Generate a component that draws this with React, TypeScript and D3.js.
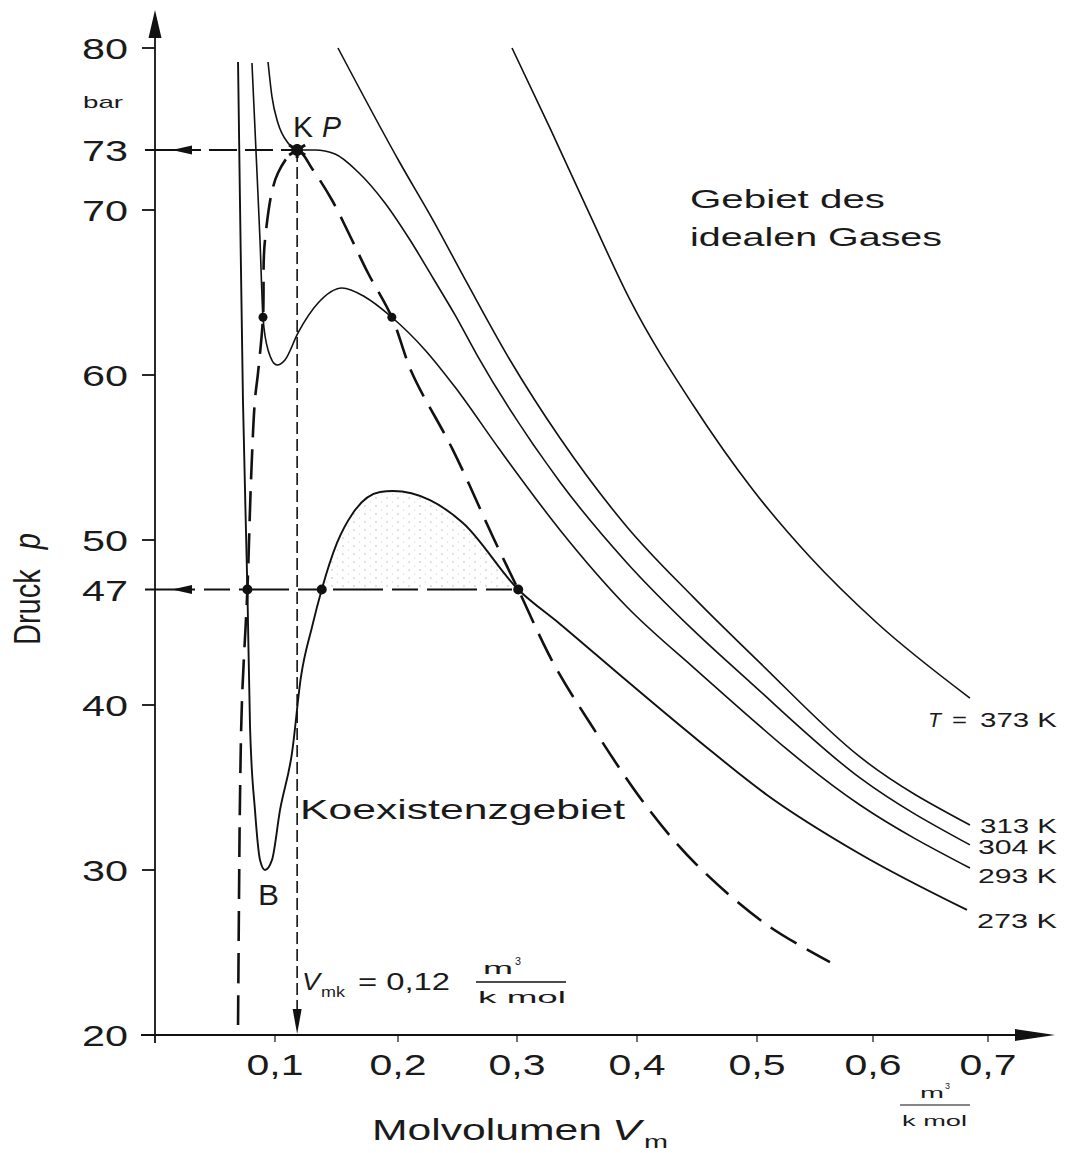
import React from "react";
import * as d3 from "d3";

const W = 1065;
const H = 1153;

// axis ticks: Molvolumen in m3/kmol, Druck in bar
const xTickValues = [0.1, 0.2, 0.3, 0.4, 0.5, 0.6, 0.7];
const xTickLabels = ["0,1", "0,2", "0,3", "0,4", "0,5", "0,6", "0,7"];
const yTickValues = [80, 73, 70, 60, 50, 47, 40, 30, 20];
const yTickMarks = [80, 70, 60, 50, 40, 30, 20];

// isotherms, [V, p]
const iso373 = [
  [0.2958, 80], [0.3275, 74.5], [0.3608, 69.7], [0.3942, 64.55],
  [0.4467, 58.18], [0.4967, 53.03], [0.5457, 48.97], [0.6035, 44.97], [0.6843, 40.42],
];
const iso313 = [
  [0.1512, 80], [0.2017, 72.35], [0.2294, 69.39], [0.258, 65.58], [0.2941, 60.91],
  [0.3358, 56.18], [0.3917, 50.79], [0.4467, 46.55], [0.5026, 42.55], [0.5888, 36.85],
  [0.6843, 32.73],
];
const iso304 = [
  [0.0942, 79.04], [0.0975, 76.64], [0.1024, 74.85], [0.1106, 73.48], [0.118, 73.0],
  [0.1325, 73.0], [0.1488, 72.8], [0.1675, 71.9], [0.1894, 70.35], [0.2101, 68.18],
  [0.2294, 65.88], [0.2479, 63.64], [0.2664, 61.21], [0.3358, 53.52], [0.3917, 48.61],
  [0.4467, 44.55], [0.4942, 41.39], [0.5888, 35.58], [0.6843, 31.52],
];
const iso293 = [
  [0.0808, 78.97], [0.085, 71.85], [0.0875, 68.18], [0.09, 63.5], [0.0942, 61.52],
  [0.1016, 60.61], [0.1081, 60.91], [0.1187, 62.55], [0.135, 64.36], [0.1545, 65.27],
  [0.1732, 64.73], [0.195, 63.5], [0.2227, 61.52], [0.2479, 59.27], [0.2857, 55.45],
  [0.3358, 50.61], [0.3917, 45.94], [0.4467, 42.3], [0.5888, 33.94], [0.6843, 30.12],
];
const iso273 = [
  [0.0692, 79.04], [0.0708, 70.5], [0.0733, 58.48], [0.077, 47], [0.0792, 38.67],
  [0.0833, 33.64], [0.0875, 30.61], [0.0917, 30.0], [0.0975, 30.61], [0.1041, 33.64],
  [0.1138, 37.09], [0.1211, 41.7], [0.1301, 44.73], [0.138, 47], [0.1504, 49.82],
  [0.1634, 51.64], [0.1854, 52.91], [0.1959, 52.97], [0.2269, 52.42], [0.2546, 51.03],
  [0.301, 47], [0.3358, 44.91], [0.3917, 41.45], [0.4525, 37.76], [0.5086, 34.55],
  [0.5888, 30.97], [0.6817, 27.58],
];

// border of the coexistence region (dashed), from low left over KP down to the right
const binodal = [
  [0.0692, 20.6], [0.07, 28.2], [0.0708, 34.2], [0.0725, 40.3], [0.077, 47],
  [0.08, 53.6], [0.0833, 58.5], [0.0858, 60.1], [0.09, 63.5], [0.0917, 68.2],
  [0.1024, 71.85], [0.118, 73], [0.1309, 72], [0.1463, 70.5], [0.1626, 68.18],
  [0.1756, 66.18], [0.195, 63.5], [0.2118, 60.12], [0.2462, 55.45], [0.2798, 50.18],
  [0.301, 47], [0.3302, 42.55], [0.3608, 38.91], [0.4083, 33.82], [0.45, 30.3],
  [0.5086, 26.67], [0.5629, 24.42],
];

const vCrit = 0.118;
const pCrit = 73;
const p273 = 47;
const dots273 = [0.077, 0.138, 0.301];
const p293 = 63.5;
const dots293 = [0.09, 0.195];

const FONT = "'Liberation Sans', Arial, sans-serif";

function T({ x, y, size, len, anchor = "start", italic = false, children }: any) {
  return (
    <text
      x={x}
      y={y}
      fontSize={size}
      textLength={len}
      lengthAdjust="spacingAndGlyphs"
      textAnchor={anchor}
      fontStyle={italic ? "italic" : "normal"}
      fill="#1a1a1a"
    >
      {children}
    </text>
  );
}

export default function App() {
  const x = d3.scaleLinear()
    .domain([0, 0.1, 0.2, 0.3, 0.4, 0.5, 0.6, 0.7])
    .range([155, 275, 398, 517, 637, 757, 873, 988]);
  const y = d3.scaleLinear()
    .domain([20, 70, 73, 80])
    .range([1035, 210, 150, 48]);

  const iso = d3.line<number[]>().x(d => x(d[0])).y(d => y(d[1])).curve(d3.curveMonotoneX);
  const dome = d3.line<number[]>().x(d => x(d[0])).y(d => y(d[1])).curve(d3.curveCatmullRom.alpha(0.5));

  // stippled lobe of the 273 K loop above the 47 bar line
  const lobe = iso273.filter(d => d[0] >= dots273[1] && d[0] <= dots273[2]);
  const lobeArea = d3.area<number[]>().x(d => x(d[0])).y0(y(p273)).y1(d => y(d[1])).curve(d3.curveMonotoneX);

  const x0 = x(0);
  const yBase = y(20);
  const xc = x(vCrit);
  const yc = y(pCrit);
  const y47 = y(p273);

  return (
    <svg
      width={W}
      height={H}
      style={{ position: "absolute", left: 0, top: 0, background: "#fff" }}
      fontFamily={FONT}
    >
      <defs>
        <pattern id="stip" width="11" height="8" patternUnits="userSpaceOnUse">
          <circle cx="2" cy="2" r="0.7" fill="#888" />
          <circle cx="7.5" cy="6" r="0.6" fill="#aaa" />
        </pattern>
      </defs>
      <rect width={W} height={H} fill="#fff" />

      <path d={lobeArea(lobe) || ""} fill="url(#stip)" opacity={0.7} />

      {/* axes */}
      <g stroke="#111" strokeWidth={1.8}>
        <line x1={x0} x2={x0} y1={yBase + 8} y2={16} />
        <line x1={x0 - 14} x2={1020} y1={yBase} y2={yBase} />
        {yTickMarks.map(v => (
          <line key={v} x1={x0 - 13} x2={x0} y1={y(v)} y2={y(v)} />
        ))}
        {xTickValues.map(v => (
          <line key={v} x1={x(v)} x2={x(v)} y1={yBase} y2={yBase + 7} strokeWidth={1.2} />
        ))}
      </g>
      <path d={`M${x0},10 L${x0 - 6.5},38 L${x0 + 6.5},38 Z`} fill="#111" />
      <path d={`M1055,${yBase} L1015,${yBase - 6} L1015,${yBase + 6} Z`} fill="#111" />

      {/* tick labels */}
      {yTickValues.map(v => (
        <T key={v} x={128} y={y(v) + 11} size={29} len={46} anchor="end">{String(v)}</T>
      ))}
      <T x={83} y={108} size={17} len={40}>bar</T>
      {xTickValues.map((v, i) => (
        <T key={v} x={x(v)} y={1075} size={30} len={57} anchor="middle">{xTickLabels[i]}</T>
      ))}

      {/* isotherms */}
      <g fill="none" stroke="#111" strokeWidth={1.6}>
        <path d={iso(iso373) || ""} />
        <path d={iso(iso313) || ""} />
        <path d={iso(iso304) || ""} />
        <path d={iso(iso293) || ""} />
        <path d={iso(iso273) || ""} strokeWidth={1.9} />
      </g>

      {/* coexistence border */}
      <path d={dome(binodal) || ""} fill="none" stroke="#111" strokeWidth={2.6} strokeDasharray="30,12" />

      {/* guide lines at 73 bar, 47 bar and V_mk */}
      <g fill="none" stroke="#111" strokeWidth={2}>
        <line x1={x0 - 10} x2={xc} y1={yc} y2={yc} strokeDasharray="56,8,28,8,28,8" />
        <line x1={x0 - 10} x2={x(dots273[2])} y1={y47} y2={y47} strokeDasharray="50,9,26,9" />
        <line x1={xc} x2={xc} y1={yc} y2={yBase - 18} strokeDasharray="12,5" strokeWidth={1.6} />
      </g>
      <path d={`M${x0 + 17},${yc} L${x0 + 37},${yc - 4.5} L${x0 + 37},${yc + 4.5} Z`} fill="#111" />
      <path d={`M${x0 + 17},${y47} L${x0 + 37},${y47 - 4.5} L${x0 + 37},${y47 + 4.5} Z`} fill="#111" />
      <path d={`M${xc},${yBase - 1} L${xc - 4.5},${yBase - 26} L${xc + 4.5},${yBase - 26} Z`} fill="#111" />

      {/* points */}
      {dots273.map(v => <circle key={v} cx={x(v)} cy={y47} r={5} fill="#111" />)}
      {dots293.map(v => <circle key={v} cx={x(v)} cy={y(p293)} r={4.5} fill="#111" />)}
      <g stroke="#111" strokeWidth={3}>
        <circle cx={xc} cy={yc} r={4.5} fill="#111" />
        <line x1={xc - 8} x2={xc + 8} y1={yc - 5} y2={yc + 5} />
        <line x1={xc - 8} x2={xc + 8} y1={yc + 5} y2={yc - 5} />
        <line x1={xc} x2={xc} y1={yc - 6} y2={yc + 8} />
      </g>

      {/* annotations */}
      <T x={293} y={137} size={30} len={20}>K</T>
      <T x={322} y={137} size={30} len={19} italic>P</T>
      <T x={258} y={905} size={30} len={21}>B</T>
      <T x={690} y={208} size={25} len={195}>Gebiet des</T>
      <T x={690} y={246} size={25} len={252}>idealen Gases</T>
      <T x={300} y={819} size={28} len={325}>Koexistenzgebiet</T>

      <T x={302} y={990} size={24} len={18} italic>V</T>
      <T x={321} y={997} size={15} len={24}>mk</T>
      <T x={358} y={990} size={24} len={92}>= 0,12</T>
      <T x={483} y={974} size={17} len={30}>m</T>
      <T x={515} y={965} size={11} len={6}>3</T>
      <line x1={476} x2={566} y1={982} y2={982} stroke="#111" strokeWidth={1.3} />
      <T x={478} y={1003} size={17} len={88}>k mol</T>

      {/* curve labels */}
      <T x={928} y={727} size={21} len={13} italic>T</T>
      <T x={952} y={727} size={21} len={15}>=</T>
      <T x={980} y={727} size={21} len={77}>373 K</T>
      <T x={980} y={833} size={21} len={77}>313 K</T>
      <T x={978} y={854} size={21} len={79}>304 K</T>
      <T x={978} y={883} size={21} len={79}>293 K</T>
      <T x={977} y={928} size={21} len={80}>273 K</T>

      {/* axis titles */}
      <T x={372} y={1140} size={30} len={230}>Molvolumen</T>
      <T x={612} y={1140} size={30} len={29} italic>V</T>
      <T x={644} y={1148} size={19} len={24}>m</T>
      <T x={920} y={1098} size={14} len={24}>m</T>
      <T x={945} y={1089} size={9} len={5}>3</T>
      <line x1={900} x2={970} y1={1105} y2={1105} stroke="#111" strokeWidth={1.2} />
      <T x={902} y={1126} size={14} len={65}>k mol</T>

      <g transform="translate(40,645) scale(1.3,1) rotate(-90)">
        <text x={0} y={0} fontSize={29} fill="#1a1a1a">
          Druck
          <tspan dx={20} fontStyle="italic">p</tspan>
        </text>
      </g>
    </svg>
  );
}
